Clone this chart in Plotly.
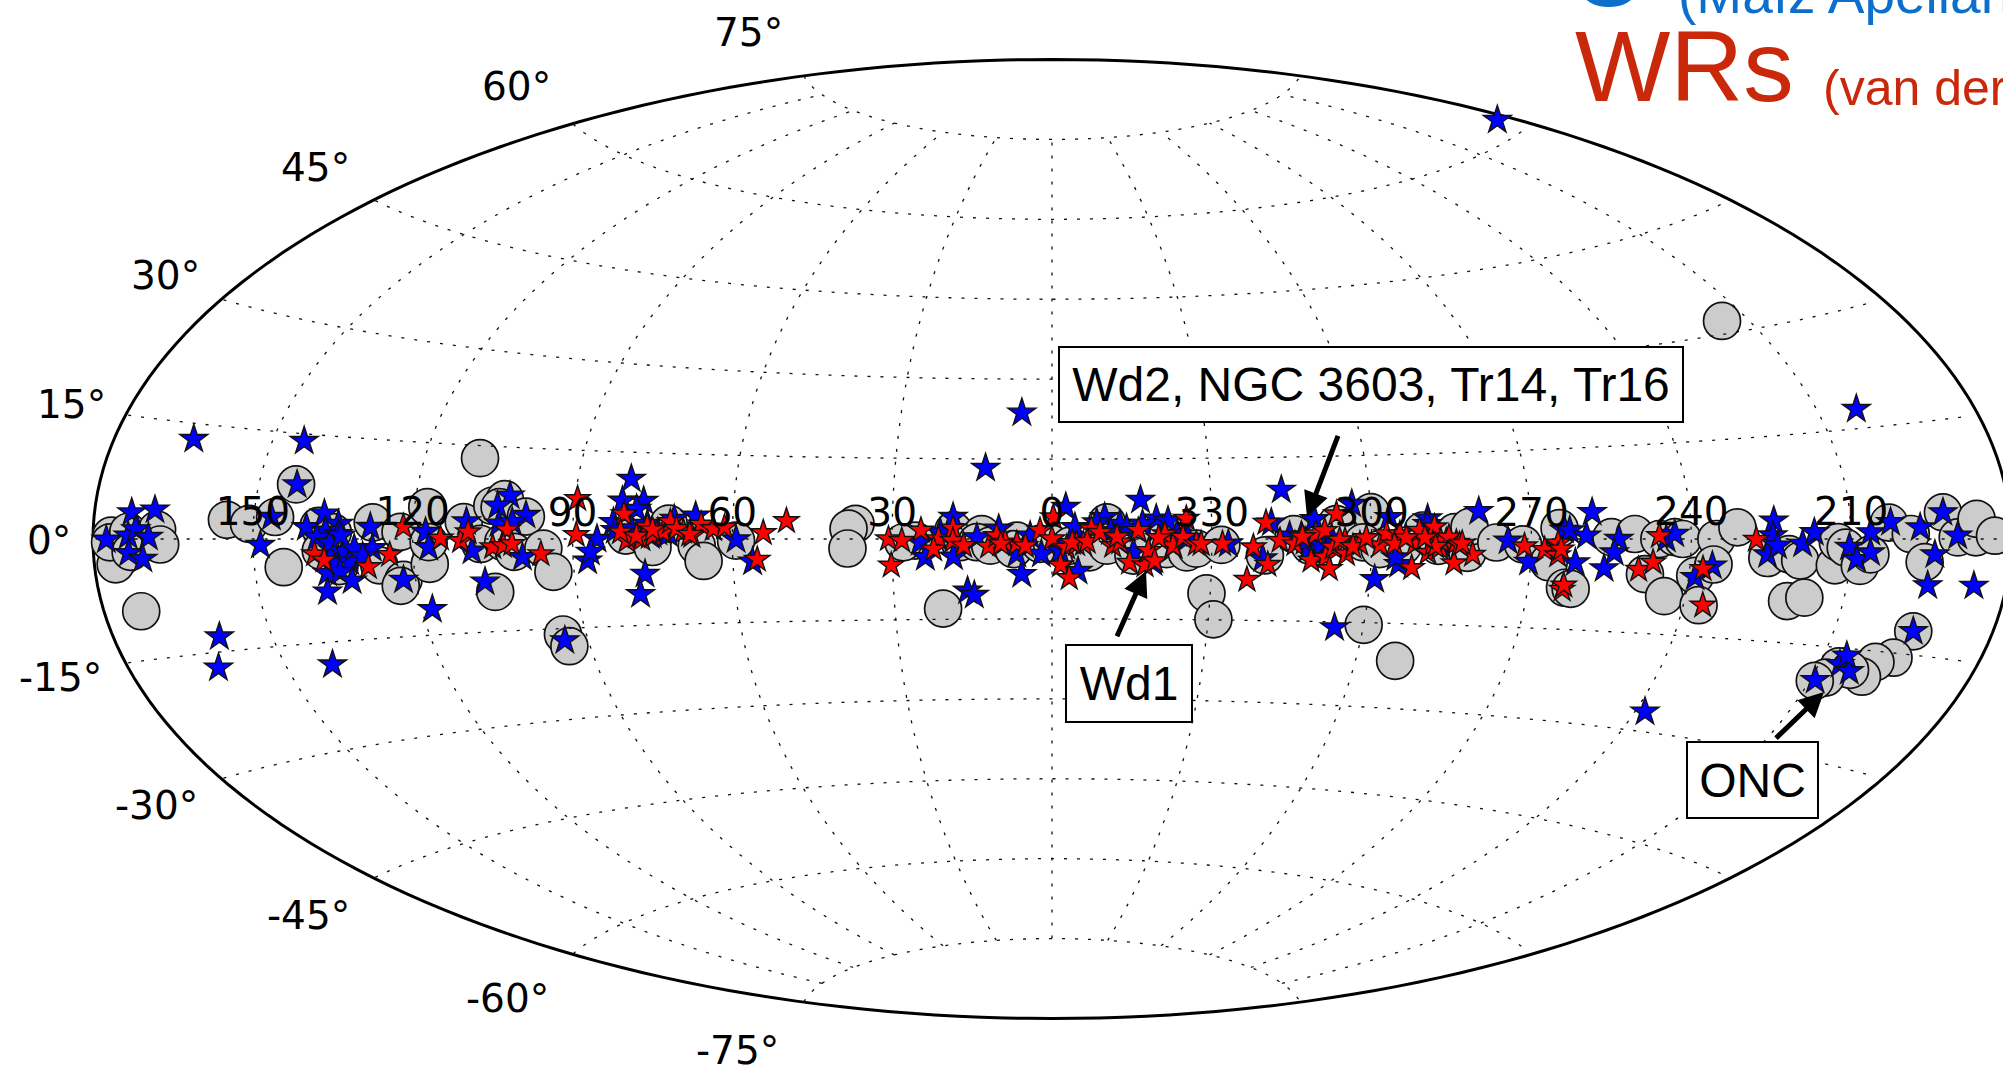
import numpy as np
import plotly.graph_objects as go

W, H = 2003, 1071
FW = 2030  # canvas slightly wider than the window: the ellipse runs past the right edge

# Galactic longitude (positive to the left) and latitude, in degrees
gray_l = [176.6,176,176.8,173.4,173,168,167.4,173,155,150.8,146,144.5,143,137.7,135,137.3,134,127.6,126.5,122.3,117.6,122.3,123,117,117,109.5,
          110.5,105.4,103.2,104,98.9,107.3,103,101,95.5,93.9,105.4,94.5,94,80,75,72,66.7,65.5,59.3,
          36.9,38.2,38.4,20.8,25.7,18.5,13.2,17.3,14.1,11.6,6.6,7.25,2.25,0,-3.4,-7,-10.3,-10.3,-15.3,-15.3,-21.8,-21.5,-25.3,27.9,
          -27.1,-31.8,-29.3,-31,-40,-45.4,-53.4,-48.4,-60,-58.4,-61.5,-69.6,-65.9,-72.5,-75.6,-78,-78.4,-83.4,-88.4,-93.4,-97,-60,-67.8,-95.3,
          -98.1,-105,-109.4,-114,-111.7,-116,-116.9,-118.4,-121.2,-122.9,-124.7,-124.4,-128.7,-134.4,-138.4,-140.6,-139.4,-142.5,-147.2,-147.5,-149,-151.9,-153.7,-157.2,-161.2,-164,-167.5,-170,-173.4,-173.7,-177,
          -165,-163.5,-160.5,-159.5,-154,-156.5,-152.7,-151,-144.6]
gray_b = [.4,-3.1,-.4,.9,-1.6,1.2,-.7,-9,2.6,2.1,3.1,-4,7.8,1.9,1,-1.7,-4,2.5,-4,1.1,5,-6.3,-7.2,-3.9,-.5,13,
          2.7,5.4,6.5,5.2,3.7,-.8,-.5,-2.1,-1.6,-5.5,-8.6,-16,-18,.6,-1.4,2.7,-1.2,-3.9,-.3,
          2.8,1.9,-1.75,-13,-.3,1.6,.9,-.6,-.6,-1.25,-.3,-1.9,-.9,-.9,-1.25,-2.5,3.1,-1.25,-.6,-3.1,.9,-1.9,-2.5,-.6,
          -1.8,-1.1,-10.1,-14.9,-3,.9,2.7,-1.2,4.8,-.6,-1.8,1.5,-1.2,-1.2,1.2,-2.4,2.1,-.6,-.9,-3.9,-8.1,-15.4,-21.6,1.8,
          -8.25,.3,.8,0,-5.6,-9,.3,0,-5.7,-10.2,0,-3.9,1.75,-2.8,-2.2,-3.1,-9,-8.4,-3.7,-.45,-1.2,-3.7,-2.1,2.2,.66,-3,3.4,.2,.2,2.5,.4,
          -12,-15.6,-16.4,-18.5,-17.5,-17.8,-19.2,-19.8,31.8]

blue_l = [165,144,142.8,173,168.7,177.5,173.4,172,169.6,173.4,170.8,146.7,148.6,160,163,141,118,
          140,136.8,134,136.4,134,135,133,134.5,132,136.4,134,132,137,128,127.6,122.3,117.6,117,
          102.3,104.4,98.9,103.9,101.4,110,108.9,99.5,107,85.4,87.3,86.7,94.5,79.9,81,77,78.2,82.4,67,71,76.7,78,59.3,56.3,75.4,
          -2.6,-16.7,18.6,10,24.75,23.8,21,18.5,16,14.75,14.1,5.7,6.6,2,-4.3,-4.9,-9.9,-12.75,-19.6,-21.8,-8.4,-15.3,-19,4.1,-22.75,-1.5,
          -43.4,-41.2,-49.3,-56.5,-63.4,-70.6,-80.3,-85.6,-89.6,-96.2,-60.9,-65.2,-54.5,-44.6,-46.8,-48.1,-49.6,-64.6,-33.1,-39.6,
          -101.6,-97.2,-100.3,-106.4,-105.6,-103.9,-98.4,-115.3,-116.9,-124.2,-121.2,-135.6,-135.3,-134.4,-136.2,-140.9,-143.1,-149.7,-151.2,-153.7,-153.7,-157.5,-163,-167.5,-170,-165.8,-165.2,-173.9,-122,
          -165,-151,-154,-156.5,-154.5,-176,-157.6,6,12.7,
          138,135.5,133.5,131,129.5,82,79,76,74,72,-17,-14,-11,-23.5,-25.5,-47.5,-50.5,-52.5,-70.5,-73]
blue_b = [13,14,7.8,3.3,3.7,-.1,.4,1.2,.25,-1.75,-2.5,3.1,-.85,-13,-17,-18.2,-11,
          1.7,3.7,2.2,1.2,.7,-1.7,-1.9,-3.4,-3.4,-5,-4.9,-6.2,-7.7,1.8,-1.4,-6.3,1.1,-1.3,
          7.1,5.4,3.95,2.5,2.8,2.8,-1.9,-3,-6.9,0,-3.7,-2.2,-17,10.4,6.6,6.6,5.2,2.9,4.1,3.5,-6.1,-9.6,-.1,-4.1,.6,
          6,7.3,4.1,1.9,-.6,-3.4,1.25,-3.3,-9.7,-10.5,.3,-6.6,-2.8,-2.8,2.2,-6,4.1,2.8,3.8,3.4,3.1,-2.5,-4.4,.6,-1.25,-2.2,
          9,3,3.6,6.3,3.9,3.6,4.8,-.3,-3.9,1.5,-7.2,-4.5,-16,.6,.6,-1.8,-1.8,-3.3,-.9,-3.6,
          4.4,1.4,.55,0,-2.2,-4.8,-3.9,0,.8,-4.1,-5.9,2.7,.5,-2.3,-1,-.7,.95,-1.1,-2.8,.9,-1.85,2.25,1.5,3.4,.4,-2,-6,-5.8,-27,
          -12,-19.7,-17.2,-18,-16,62,17.6,23.7,13.3,
          .2,-.6,.5,-1.4,-2.6,1.5,1.8,2.6,1.2,.9,2.8,2,1.4,1,.2,-.4,-1,.2,2.6,-1]

red_l = [121.8,124.4,128.6,138.5,136.8,114.8,111,
         89.5,89.3,109.6,105,102.3,103,101.4,96,80.5,79.8,81,77,76,74.9,73,71.7,69.2,67.6,65.9,63.6,61.5,54.2,49.9,55.4,
         30.7,30.25,28.2,24.6,21.3,22.25,18.6,18.6,16.6,11.9,10.4,8.8,6.6,2.25,0,-.25,-2.75,-4.6,-5.9,-1.6,-3.25,-7.4,-11.4,-16.2,-14.6,-17.5,-18.1,-21.2,-22.75,-25.25,-24.6,-27.1,-19.3,-12.75,
         -32,-28,-40.2,-37.8,-40.6,-36.8,-42.8,-45.6,-49.5,-51.2,-53.5,-48.7,-51.4,-52.2,-52.8,-55,-55.3,-57.8,-61.6,-62.8,-65.3,-64.3,-68.1,-69,-71.8,-70.6,-67.7,-71.5,-72.8,-74,-75.9,-75.6,-79,-88.7,-92.5,-95,-95,-96.5,
         -96.7,-114,-110.4,-113,-122.5,-123.7,-132.2,-95.6,-73,-74.5,-72,-76.5,-70,
         78,75,70.5,68,9.6,5,-3.8,-6.6,-9,-47,-54,-56.5,-59,-66.5,-77,-12.2,-20]
red_b = [1.9,-2.4,-4.2,-2.2,-3.1,.1,-.3,
         6.8,.7,1.1,-1.3,1.5,-1.1,-.8,-2.5,4.3,-.3,1.2,0,2.1,.6,1.2,3,1.3,.6,2.6,1.8,2.1,1.1,3.3,-3.7,
         0,-4.9,-.3,1.6,0,-1.9,2,-.3,-1.25,-1.4,.6,-.6,-.9,1.6,0,4.1,-1.6,-.9,-.9,-4.9,-7.3,1.9,-1.25,1.6,-4.4,-4.9,-2.2,.9,-1.25,3.8,.3,-.9,-4.1,-.6,
         -.9,-.9,3,-1.5,-4.7,-7.5,-.3,-.9,.9,1.5,4.5,-3.9,-3.3,-5.4,-1.5,-.3,-2.7,-.9,-1.1,.9,.9,-.9,-.9,1.5,2.1,-2.4,-5.1,-.9,-1.5,-.3,-.6,-4.2,-2.7,-1.2,-1.8,-.7,-2.7,-8.4,
         -7.7,.5,-4.9,-3.7,-4.6,-10.2,-.1,-1.7,-.4,.3,-1.3,-1.0,.2,
         .5,1.6,1.8,.8,-.9,-1.3,-.7,-.5,1.2,.4,-.2,-1.4,.2,.2,-.8,.4,.2]

lon_ticks = [150,120,90,60,30,0,-30,-60,-90,-120,-150]
lon_tick_text = ["150","120","90","60","30","0","330","300","270","240","210"]
lat_ticks = [75,60,45,30,15,-15,-30,-45,-60,-75]

lat_labels = ["75°","60°","45°","30°","15°","0°","-15°","-30°","-45°","-60°","-75°"]
lat_label_x = [748,516,315,165,71,49,60,156,308,507,737]
lat_label_y = [32,86,167,276,404,540,677,805,915,998,1050]

BLK = "#111111"
GRID = dict(color=BLK, width=1.3, dash="3px,10px")
fig = go.Figure()

fig.add_trace(go.Scattergeo(lon=[-v for v in gray_l], lat=gray_b, mode="markers",
    marker=dict(symbol="circle", size=37, color="#CCCCCC", line=dict(color=BLK, width=1.7)), hoverinfo="skip"))

# graticule, capped at +-75 latitude
for la in lat_ticks:
    lons = np.arange(-179.5, 180, 2.5)
    fig.add_trace(go.Scattergeo(lon=lons, lat=[la]*len(lons), mode="lines", line=GRID, hoverinfo="skip"))
for lo in [-150,-120,-90,-60,-30,0,30,60,90,120,150]:
    lats = np.arange(-75, 75.1, 2.5)
    fig.add_trace(go.Scattergeo(lon=[lo]*len(lats), lat=lats, mode="lines", line=GRID, hoverinfo="skip"))
eq = np.arange(-179.5, 180, 2.5)
fig.add_trace(go.Scattergeo(lon=eq, lat=[0]*len(eq), mode="lines", line=GRID, hoverinfo="skip"))

fig.add_trace(go.Scattergeo(lon=[-v for v in blue_l], lat=blue_b, mode="markers",
    marker=dict(symbol="star", size=21, color="#0000FF", line=dict(color=BLK, width=1.4)), hoverinfo="skip"))
fig.add_trace(go.Scattergeo(lon=[-v for v in red_l], lat=red_b, mode="markers",
    marker=dict(symbol="star", size=19, color="#FF0000", line=dict(color=BLK, width=1.4)), hoverinfo="skip"))
fig.add_trace(go.Scattergeo(lon=[-v for v in lon_ticks], lat=[0.6]*len(lon_ticks), mode="text",
    text=lon_tick_text, textposition="top center",
    textfont=dict(family="DejaVu Sans", size=39, color="black"), hoverinfo="skip"))

L, R = 88, 2016   # ellipse spans x = 93..2011 within this box
fig.update_layout(
    width=FW, height=H, showlegend=False, paper_bgcolor="white",
    margin=dict(l=0, r=0, t=0, b=0, autoexpand=False),
    geo=dict(
        domain=dict(x=[L/FW, R/FW], y=[0, (H-7)/H]),
        projection=dict(type="aitoff", scale=1918/(R-L)),
        showland=False, showcoastlines=False, showcountries=False, showlakes=False,
        showocean=False, showrivers=False, showsubunits=False,
        showframe=True, framecolor="black", framewidth=3, bgcolor="white",
        lonaxis=dict(showgrid=False, range=[-180,180]),
        lataxis=dict(showgrid=False, range=[-90,90]),
    ),
)

def px(x): return x/FW
def py(y): return 1-y/H

ann = []
for t,x,y in zip(lat_labels, lat_label_x, lat_label_y):
    ann.append(dict(text=t, xref="paper", yref="paper", x=px(x), y=py(y), showarrow=False,
                    xanchor="center", yanchor="middle",
                    font=dict(family="DejaVu Sans", size=39, color="black")))

def box(text, x0, y0, x1, y1):
    return dict(text=text, xref="paper", yref="paper", x=px((x0+x1)/2), y=py((y0+y1)/2),
                showarrow=False, xanchor="center", yanchor="middle",
                width=x1-x0-4, height=y1-y0-4, borderwidth=2, borderpad=0, bordercolor="black",
                bgcolor="white", font=dict(family="Liberation Sans", size=48, color="black"))

def arrow(x0, y0, x1, y1):
    return dict(text=" ", xref="paper", yref="paper", x=px(x1), y=py(y1), ax=x0-x1, ay=y0-y1,
                showarrow=True, arrowhead=2, arrowwidth=5, arrowsize=1, arrowcolor="black")

ann += [arrow(1341,428,1307,517), arrow(1114,643,1146,571), arrow(1773,741,1824,692)]
ann += [box("Wd2, NGC 3603, Tr14, Tr16",1058,346,1684,423),
        box("Wd1",1065,644,1193,723),
        box("ONC",1686,741,1819,819)]

RED = "#C9280A"; BLU = "#0B6FCB"
def label(text, x, y, size, color):
    return dict(text=text, xref="paper", yref="paper", x=px(x), y=py(y), showarrow=False,
                xanchor="left", yanchor="bottom", font=dict(family="Liberation Sans", size=size, color=color))
ann += [label("WRs",1573,124,101,RED), label("(van der",1821,118,50,RED),
        label("O",1568,29,100,BLU), label("(Maíz Apellániz",1676,27,55,BLU)]
fig.update_layout(annotations=ann)
fig.write_html("out.html", config=dict(displayModeBar=False),
    post_script="document.body.style.margin='0';document.body.style.overflow='hidden';document.documentElement.style.overflow='hidden';")
